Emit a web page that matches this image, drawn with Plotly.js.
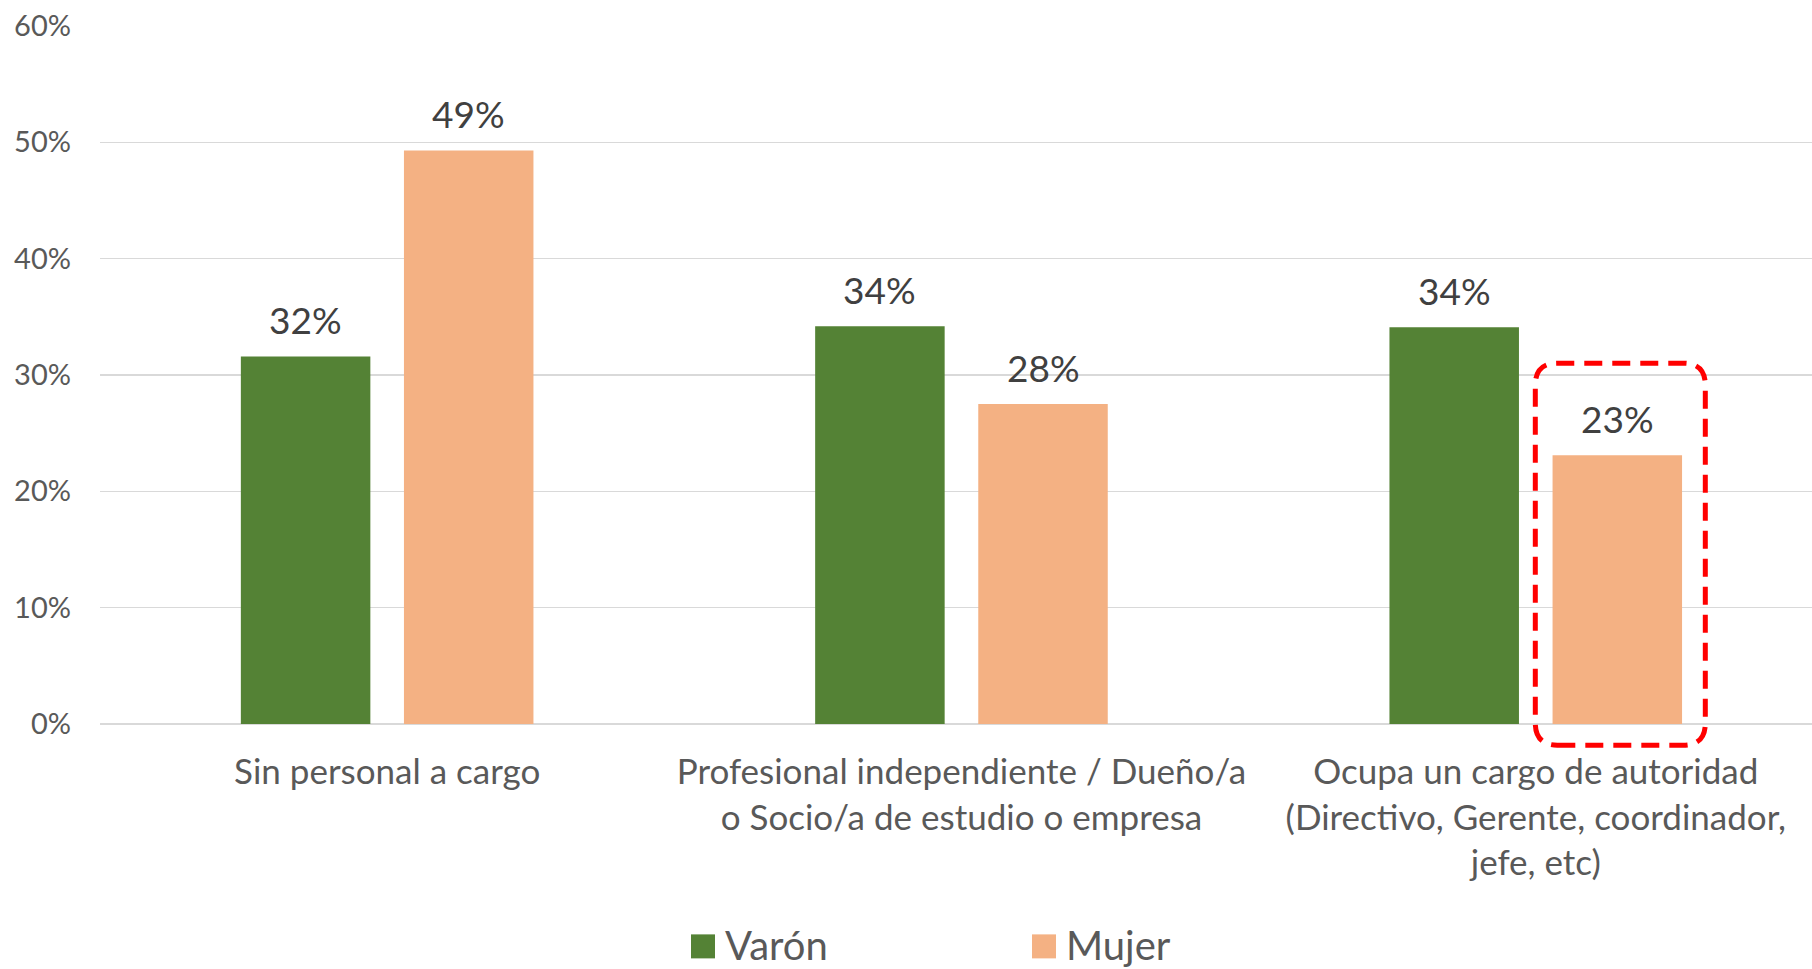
<!DOCTYPE html>
<html>
<head>
<meta charset="utf-8">
<script src="https://cdn.plot.ly/plotly-3.0.1.min.js"></script>
<style>html,body{margin:0;padding:0;background:#fff;}#chart{width:1812px;height:969px;}</style>
</head>
<body>
<div id="chart"></div>
<script>
const categories = [
  "Sin personal a cargo",
  "Profesional independiente / Dueño/a<br>o Socio/a de estudio o empresa",
  "Ocupa un cargo de autoridad<br>(Directivo, Gerente, coordinador,<br>jefe, etc)"
];
const varon = [0.316, 0.342, 0.341];
const mujer = [0.493, 0.275, 0.231];
const seriesNames = ["Varón", "Mujer"];
const yTicks = [0, 0.1, 0.2, 0.3, 0.4, 0.5, 0.6];
const yTickText = ["0%", "10%", "20%", "30%", "40%", "50%", "60%"];
const highlightCategory = 2; // Mujer bar in this category is circled

const FONT = "Lato, 'Open Sans', sans-serif";
const COLORS = ["#548235", "#F4B183"];
const bargap = 0.432;
const bargroupgap = 0.206;
const off = (1 - bargap) / 4; // offset of each bar centre from category centre
const xRange = [-0.5, 2.481];
const yRange = [0, 0.6];

const idx = categories.map((_, i) => i);
const seriesValues = [varon, mujer];

const traces = seriesValues.map((vals, s) => ({
  type: "bar", name: seriesNames[s], x: idx, y: vals,
  marker: {color: COLORS[s]}, hoverinfo: "y", showlegend: false
}));

const annotations = [];
seriesValues.forEach((vals, s) => {
  vals.forEach((v, i) => {
    annotations.push({
      x: i + (s === 0 ? -off : off), y: v, xref: "x", yref: "y",
      text: Math.round(v * 100) + "%", showarrow: false,
      yanchor: "bottom", yshift: 12,
      font: {family: FONT, size: 37, color: "#404040"}
    });
  });
});

// Legend drawn as squares + text below the chart
const legendX = [0.3452, 0.5444];
const legendY = -0.3186;
const shapes = [];
seriesNames.forEach((name, s) => {
  shapes.push({
    type: "rect", xref: "paper", yref: "paper",
    xsizemode: "pixel", ysizemode: "pixel",
    xanchor: legendX[s], yanchor: legendY,
    x0: 0, x1: 24, y0: -12, y1: 12,
    fillcolor: COLORS[s], line: {width: 0}
  });
  annotations.push({
    xref: "paper", yref: "paper", x: legendX[s], y: legendY,
    xanchor: "left", yanchor: "middle", xshift: 32, yshift: 1,
    text: name, showarrow: false,
    font: {family: FONT, size: 40, color: "#595959"}
  });
});

// rounded dashed highlight box around the Mujer bar of the highlighted category
const hw = 85, hh = 191, r = 22;
const boxPath = `M ${-hw + r} ${-hh} L ${hw - r} ${-hh} Q ${hw} ${-hh} ${hw} ${-hh + r} L ${hw} ${hh - r} Q ${hw} ${hh} ${hw - r} ${hh} L ${-hw + r} ${hh} Q ${-hw} ${hh} ${-hw} ${hh - r} L ${-hw} ${-hh + r} Q ${-hw} ${-hh} ${-hw + r} ${-hh} Z`;
shapes.push({
  type: "path", xref: "paper", yref: "paper",
  xsizemode: "pixel", ysizemode: "pixel",
  xanchor: (highlightCategory + off - xRange[0]) / (xRange[1] - xRange[0]) + 3 / 1712,
  yanchor: (0.146 - yRange[0]) / (yRange[1] - yRange[0]),
  path: boxPath,
  line: {color: "#FF0000", width: 5, dash: "18px,10px"},
  fillcolor: "rgba(0,0,0,0)", layer: "above"
});

const layout = {
  width: 1812, height: 969,
  margin: {l: 100, r: 0, t: 26, b: 245},
  paper_bgcolor: "#ffffff", plot_bgcolor: "#ffffff",
  barmode: "group", bargap: bargap, bargroupgap: bargroupgap,
  font: {family: FONT, color: "#595959"},
  showlegend: false,
  xaxis: {
    tickmode: "array", tickvals: idx, ticktext: categories,
    range: xRange, automargin: false,
    showgrid: false, zeroline: false, showline: false, ticks: "",
    tickfont: {family: FONT, size: 35, color: "#595959"},
    ticklabelstandoff: 24, fixedrange: true
  },
  yaxis: {
    range: yRange, tickvals: yTicks, ticktext: yTickText, automargin: false,
    showgrid: true, gridcolor: "#d9d9d9", gridwidth: 1.5,
    zeroline: true, zerolinecolor: "#d9d9d9", zerolinewidth: 1.5,
    showline: false, ticks: "",
    tickfont: {family: FONT, size: 29, color: "#595959"},
    ticklabelstandoff: 28, fixedrange: true
  },
  annotations: annotations,
  shapes: shapes
};

Plotly.newPlot("chart", traces, layout, {displayModeBar: false, staticPlot: true});
</script>
</body>
</html>
